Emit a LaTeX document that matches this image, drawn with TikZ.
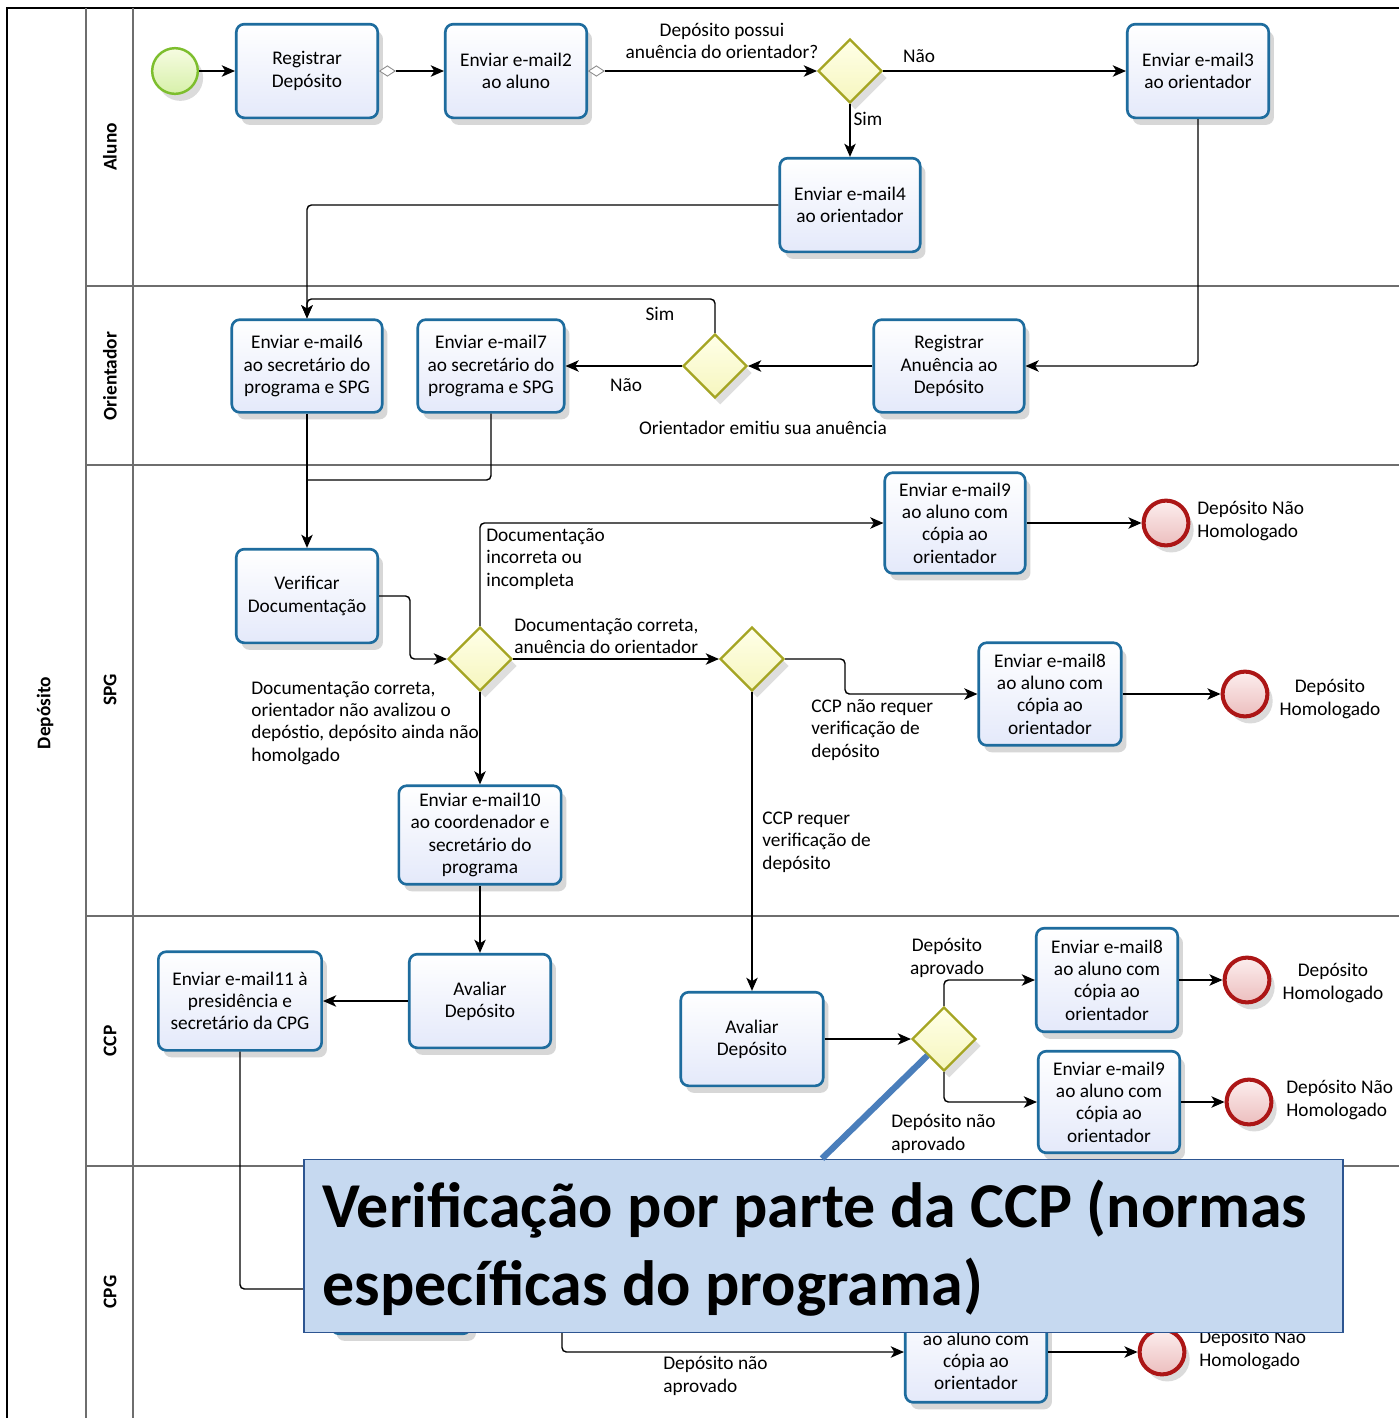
\documentclass[tikz,border=0pt]{standalone}
\usepackage{fontspec}
\setmainfont{Carlito}
\usetikzlibrary{shapes.geometric,arrows.meta,shadows,calc}
\definecolor{taskbd}{RGB}{30,108,158}
\definecolor{taskbot}{RGB}{228,233,250}
\definecolor{gwbd}{RGB}{165,165,35}
\definecolor{gwtop}{RGB}{255,255,232}
\definecolor{gwbot}{RGB}{246,246,190}
\definecolor{stbd}{RGB}{125,190,45}
\definecolor{sttop}{RGB}{246,252,225}
\definecolor{stbot}{RGB}{215,240,170}
\definecolor{endbd}{RGB}{172,22,22}
\definecolor{endtop}{RGB}{252,238,238}
\definecolor{endbot}{RGB}{236,190,190}
\definecolor{lanec}{RGB}{110,110,110}
\definecolor{cofill}{RGB}{198,217,240}
\definecolor{cobd}{RGB}{45,85,145}
\definecolor{pointc}{RGB}{74,126,187}
\newcommand\tsize{\fontsize{11}{12.7}\selectfont}
\newcommand\lsize{\fontsize{11}{13}\selectfont\bfseries}
\newcommand\csize{\fontsize{36.4}{44}\selectfont\bfseries}
\tikzset{
  sz/.style 2 args={minimum width={#1*0.5669pt}, minimum height={#2*0.5669pt}},
  task/.style={draw=taskbd, line width=1.5pt, rounded corners=4.5pt, top color=white, bottom color=taskbot,
    align=center, font=\tsize, inner sep=1pt,
    drop shadow={shadow xshift=3pt, shadow yshift=-4pt, opacity=0.22, fill=black!70}},
  gw/.style={diamond, draw=gwbd, line width=1.3pt, top color=gwtop, bottom color=gwbot, inner sep=0pt,
    minimum width=36.3pt, minimum height=36.3pt,
    drop shadow={shadow xshift=3pt, shadow yshift=-4pt, opacity=0.18, fill=black!70}},
  startev/.style={circle, draw=stbd, line width=1.4pt, top color=sttop, bottom color=stbot, inner sep=0pt,
    minimum size=26pt, drop shadow={shadow xshift=3pt, shadow yshift=-4pt, opacity=0.2, fill=black!70}},
  endev/.style={circle, draw=endbd, line width=2.3pt, top color=endtop, bottom color=endbot, inner sep=0pt,
    minimum size=25.5pt, drop shadow={shadow xshift=3pt, shadow yshift=-4pt, opacity=0.2, fill=black!70}},
  flow/.style={draw, line width=0.8pt, -{Stealth[length=7.5pt,width=6.5pt,inset=2pt]}, rounded corners=2.5pt},
  plainflow/.style={draw, line width=0.8pt, rounded corners=2.5pt},
  mdiam/.style={diamond, draw=black!45, fill=white, line width=0.5pt, inner sep=0pt, minimum width=9pt, minimum height=6pt, anchor=west},
  lbl/.style={font=\tsize, inner sep=0pt, align=center},
  lbll/.style={font=\tsize, inner sep=0pt, align=left, anchor=west},
  lanelab/.style={font=\lsize, rotate=90, inner sep=0pt},
}
\begin{document}
\begin{tikzpicture}[x=0.02cm, y=-0.02cm]
\useasboundingbox (0,0) rectangle (1399,1418);
\fill[white] (0,0) rectangle (1399,1418);
% pool and lanes
\draw[black, line width=1.1pt] (7,1418) -- (7,8) -- (1399,8);
\draw[lanec, line width=0.9pt] (86,8) -- (86,1418);
\draw[lanec, line width=0.9pt] (133,8) -- (133,1418);
\foreach \yy in {286,465,916,1166} \draw[lanec, line width=0.9pt] (86,\yy) -- (1399,\yy);
\node[lanelab] (pool) at (45,713) {Depósito};
\node[lanelab] (lAluno) at (110,147) {Aluno};
\node[lanelab] (lOri) at (110,376) {Orientador};
\node[lanelab] (lSPG) at (110,690) {SPG};
\node[lanelab] (lCCP) at (110,1041) {CCP};
\node[lanelab] (lCPG) at (110,1292) {CPG};

% helper coordinates
\coordinate (ysim) at (0,299);
\coordinate (ymerge) at (0,480);
\coordinate (xv) at (410,0);
\coordinate (xg4) at (845,0);
\coordinate (hid) at (562,1300);
\coordinate (cpx) at (822,0);

% Aluno
\node[startev] (start) at (175,71) {};
\node[task, sz={142}{94}] (reg) at (307,71) {Registrar\\Depósito};
\node[task, sz={142}{94}] (e2) at (516,71) {Enviar e-mail2\\ao aluno};
\node[gw] (g1) at (850,71) {};
\node[task, sz={142}{94}] (e3) at (1198,71) {Enviar e-mail3\\ao orientador};
\node[task, sz={141}{94}] (e4) at (850,205) {Enviar e-mail4\\ao orientador};
\node[mdiam] (dm1) at (reg.east) {};
\node[mdiam] (dm2) at (e2.east) {};

% Orientador
\node[task, sz={151}{93}] (e6) at (307,366) {Enviar e-mail6\\ao secretário do\\programa e SPG};
\node[task, sz={147}{93}] (e7) at (491,366) {Enviar e-mail7\\ao secretário do\\programa e SPG};
\node[gw] (g2) at (715,366) {};
\node[task, sz={151}{93}] (ranu) at (949,366) {Registrar\\Anuência ao\\Depósito};

% SPG
\node[task, sz={142}{94}] (verif) at (307,596) {Verificar\\Documentação};
\node[gw] (g3) at (480,659) {};
\node[gw] (g4) at (752,659) {};
\node[task, sz={141}{101}] (e9a) at (955,523) {Enviar e-mail9\\ao aluno com\\cópia ao\\orientador};
\node[endev] (endA) at (1166,523) {};
\node[task, sz={143}{103}] (e8a) at (1050,694) {Enviar e-mail8\\ao aluno com\\cópia ao\\orientador};
\node[endev] (endB) at (1245,694) {};
\node[task, sz={163}{99}] (e10) at (480,835) {Enviar e-mail10\\ao coordenador e\\secretário do\\programa};

% CCP
\node[task, sz={142}{94}] (av1) at (480,1001) {Avaliar\\Depósito};
\node[task, sz={164}{99}] (e11) at (240,1001) {Enviar e-mail11 à\\presidência e\\secretário da CPG};
\node[task, sz={143}{94}] (av2) at (752,1039) {Avaliar\\Depósito};
\node[gw] (g5) at (944,1039) {};
\node[task, sz={142}{104}] (e8b) at (1107,980) {Enviar e-mail8\\ao aluno com\\cópia ao\\orientador};
\node[endev] (endC) at (1247,980) {};
\node[task, sz={142}{102}] (e9b) at (1109,1102) {Enviar e-mail9\\ao aluno com\\cópia ao\\orientador};
\node[endev] (endD) at (1249,1102) {};

% CPG
\node[task, sz={140}{90}] (av3) at (401,1289) {};
\node[task, sz={142}{101}] (e9c) at (976,1352) {};
\node[lbl] (e9ct) at (976,1361) {ao aluno com\\cópia ao\\orientador};
\node[endev] (endE) at (1162,1352) {};

% connectors
\draw[flow] (start) -- (reg);
\draw[flow] (dm1.east) -- (e2.west);
\draw[flow] (dm2.east) -- (g1.west);
\draw[flow] (g1.east) -- (e3.west);
\draw[flow] (g1.south) -- (e4.north);
\draw[flow] (e4.west) -| (e6.north);
\draw[flow] (g2.north) -- (g2.north |- ysim) -| (e6.north);
\draw[flow] (e3.south) |- (ranu.east);
\draw[flow] (ranu.west) -- (g2.east);
\draw[flow] (g2.west) -- (e7.east);
\draw[flow] (e6.south) -- (verif.north);
\draw[plainflow] (e7.south) -- (e7.south |- ymerge) -- (e6.south |- ymerge);
\draw[flow] (verif.east) -- (verif.east -| xv) |- (g3.west);
\draw[flow] (g3.north) |- (e9a.west);
\draw[flow] (g3.east) -- (g4.west);
\draw[flow] (g3.south) -- (e10.north);
\draw[flow] (g4.east) -- (g4.east -| xg4) |- (e8a.west);
\draw[flow] (g4.south) -- (av2.north);
\draw[flow] (e9a.east) -- (endA.west);
\draw[flow] (e8a.east) -- (endB.west);
\draw[flow] (e10.south) -- (av1.north);
\draw[flow] (av1.west) -- (e11.east);
\draw[flow] (av2.east) -- (g5.west);
\draw[flow] (g5.north) |- (e8b.west);
\draw[flow] (g5.south) |- (e9b.west);
\draw[flow] (e8b.east) -- (endC.west);
\draw[flow] (e9b.east) -- (endD.west);
\draw[flow] (e11.south) |- (av3.west);
\draw[flow] (hid) |- (e9c.west);
\draw[flow] (e9c.east) -- (endE.west);

% labels
\node[lbl] (t1) at (722,41) {Depósito possui\\anuência do orientador?};
\node[lbl] (t2) at (919,56) {Não};
\node[lbl] (t3) at (868,119) {Sim};
\node[lbl] (t4) at (660,314) {Sim};
\node[lbl] (t5) at (626,385) {Não};
\node[lbl] (t6) at (763,428) {Orientador emitiu sua anuência};
\node[lbll] (t7) at (486,559) {Documentação\\incorreta ou\\incompleta};
\node[lbll] (t8) at (514,636) {Documentação correta,\\anuência do orientador};
\node[lbll] (t9) at (251,723) {Documentação correta,\\orientador não avalizou o\\depóstio, depósito ainda não\\homolgado};
\node[lbll] (t10) at (811,730) {CCP não requer\\verificação de\\depósito};
\node[lbll] (t11) at (762,842) {CCP requer\\verificação de\\depósito};
\node[lbll] (t12) at (1197,521) {Depósito Não\\Homologado};
\node[lbl] (t13) at (1330,699) {Depósito\\Homologado};
\node[lbl] (t14) at (947,958) {Depósito\\aprovado};
\node[lbll] (t15) at (891,1134) {Depósito não\\aprovado};
\node[lbl] (t16) at (1333,983) {Depósito\\Homologado};
\node[lbll] (t17) at (1286,1100) {Depósito Não\\Homologado};
\node[lbll] (t18) at (663,1376) {Depósito não\\aprovado};
\node[lbll] (t19) at (1199,1350) {Depósito Não\\Homologado};

% callout
\node[draw=cobd, fill=cofill, line width=0.9pt, sz={1043}{174}, inner sep=0pt] (co) at (823.5,1246) {};
\node[anchor=base west, font=\csize, inner sep=0pt] (co1) at (322,1227) {Verificação por parte da CCP (normas};
\node[anchor=base west, font=\csize, inner sep=0pt] (co2) at (322,1305) {específicas do programa)};
\draw[pointc, line width=3.6pt] (co.north -| cpx) -- (g5.south west);
\end{tikzpicture}
\end{document}
